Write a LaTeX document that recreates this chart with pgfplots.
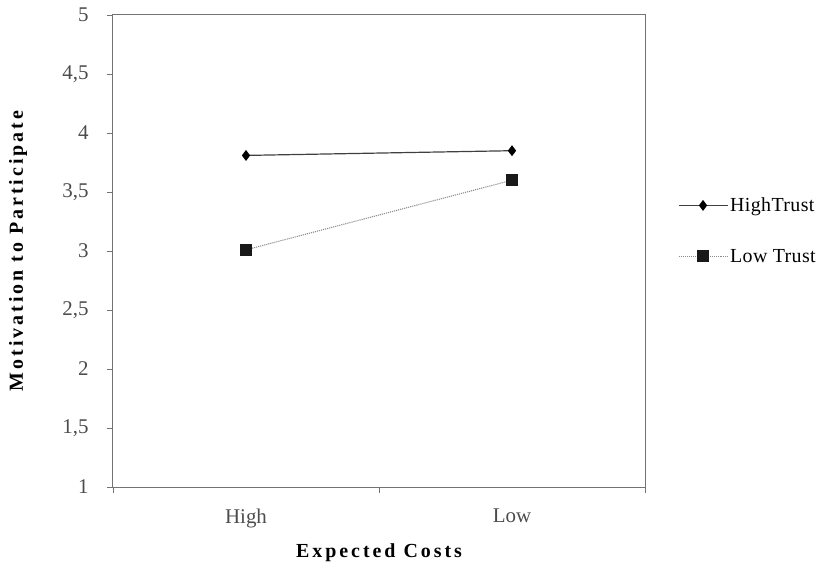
\documentclass[border=0pt]{standalone}
\usepackage{pgfplots}
\pgfplotsset{compat=1.18}
\usepackage{fontspec}
\setmainfont{Liberation Serif}
\newfontfamily\spaced[LetterSpace=15]{Liberation Serif}
\newfontfamily\legfont[LetterSpace=2]{Liberation Serif}
\begin{document}
\begin{tikzpicture}[x=1bp,y=1bp]
\begin{axis}[
  name=main,
  scale only axis,
  width=532bp, height=472bp,
  xmin=0, xmax=2, ymin=1, ymax=5,
  xtick={0,1,2}, xticklabels={},
  extra x ticks={0.5,1.5},
  extra x tick labels={High,Low},
  extra x tick style={major tick length=0pt, tick label style={yshift=-18bp}},
  ytick={1,1.5,...,5},
  /pgf/number format/use comma,
  /pgf/number format/assume math mode=true,
  tick label style={font=\fontsize{21}{21}\selectfont, color=black!70},
  yticklabel style={xshift=-15bp},
  tick align=outside,
  major tick length=6bp,
  axis line style={draw=black!55, line width=1bp},
  every tick/.style={draw=black!55, line width=0.9bp},
  xtick pos=bottom, ytick pos=left,
  ylabel={\spaced\bfseries\fontsize{20}{20}\selectfont Motivation to Participate},
  xlabel={\spaced\bfseries\fontsize{20}{20}\selectfont Expected Costs},
  ylabel style={at={(rel axis cs:0,0.5)}, anchor=center, yshift=95bp},
  xlabel style={at={(rel axis cs:0.5,0)}, anchor=center, yshift=-66bp},
  legend style={draw=none, fill=none, at={(rel axis cs:1.0615,0.543)}, anchor=west,
    font=\legfont\fontsize{20}{20}\selectfont, row sep=32bp,
    legend cell align=left, inner sep=0pt, nodes={inner sep=2bp}},
  legend image code/.code={
    \draw[#1] (0bp,0bp) -- (49bp,0bp);
    \draw[#1] plot coordinates {(24.5bp,0bp)};
  },
  clip=false,
]
\addplot[black!75, line width=1.2bp, mark=diamond*, mark size=4.5bp, mark options={solid, fill=black, draw=black}]
  coordinates {(0.5,3.81) (1.5,3.85)};
\addlegendentry{HighTrust}
\addplot[black!45, line width=1.1bp, densely dotted, mark=square*, mark size=5.5bp, mark options={solid, fill=black!90, draw=black!90}]
  coordinates {(0.5,3.01) (1.5,3.60)};
\addlegendentry{Low Trust}
\coordinate (ll) at (rel axis cs:0,0);
\end{axis}
\pgfresetboundingbox
\path (ll) ++(-113bp,-80bp) rectangle ++(821bp,567bp);
\end{tikzpicture}
\end{document}
